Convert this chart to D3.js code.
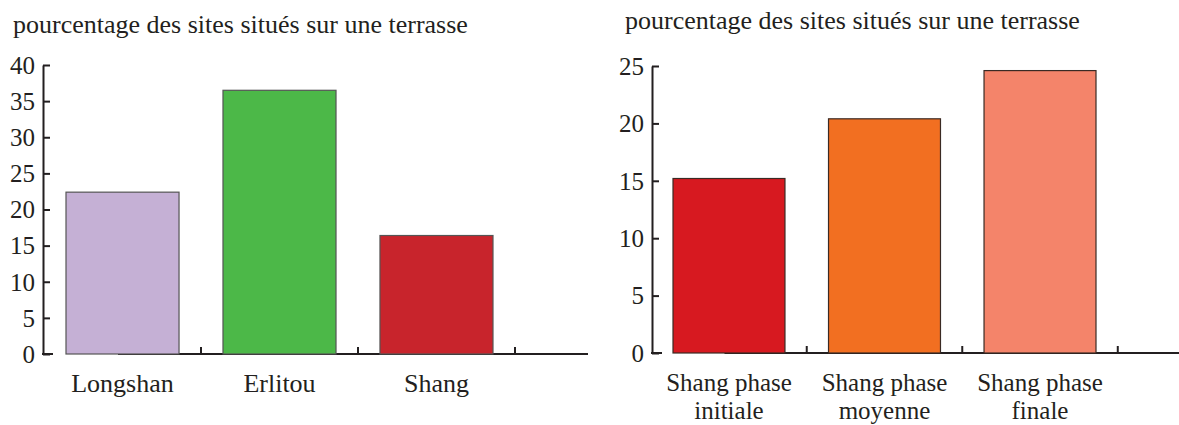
<!DOCTYPE html>
<html>
<head>
<meta charset="utf-8">
<script src="https://cdn.jsdelivr.net/npm/d3@7"></script>
<style>
  html, body { margin: 0; padding: 0; background: #fff; }
  svg { display: block; }
  text { font-family: "Liberation Serif", "Times New Roman", serif; fill: #231f20; }
</style>
</head>
<body>
<svg id="chart" width="1179" height="425"></svg>
<script>
// ---- data ----
const titleText = "pourcentage des sites situés sur une terrasse";

const leftCategories = ["Longshan", "Erlitou", "Shang"];
const leftValues = [22.4, 36.5, 16.4];
const leftColors = ["#c5b0d5", "#4cb848", "#c8242c"];
const leftTicks = [0, 5, 10, 15, 20, 25, 30, 35, 40];

const rightCategories = ["Shang phase initiale", "Shang phase moyenne", "Shang phase finale"];
const rightLabelLines = [["Shang phase", "initiale"], ["Shang phase", "moyenne"], ["Shang phase", "finale"]];
const rightValues = [15.2, 20.4, 24.6];
const rightColors = ["#d71920", "#f26f21", "#f4846a"];
const rightTicks = [0, 5, 10, 15, 20, 25];

// ---- drawing ----
const svg = d3.select("#chart");
const ink = "#231f20";
const titleSize = 26;
const tickSize = 25;

function panel(cfg) {
  const g = svg.append("g");
  const y = d3.scaleLinear().domain([0, cfg.max]).range([cfg.y0, cfg.y1]);
  const x = d3.scaleBand().domain(cfg.cats).range(cfg.xr).paddingInner(0.28).paddingOuter(0);
  const gap = x.step() - x.bandwidth();

  // title
  g.append("text")
    .attr("x", cfg.titleX).attr("y", cfg.titleY)
    .attr("font-size", titleSize)
    .text(titleText);

  // y axis (ticks pointing inward)
  const yAxis = d3.axisRight(y).tickValues(cfg.ticks).tickSize(7).tickSizeOuter(0).tickFormat("");
  const ya = g.append("g").attr("transform", `translate(${cfg.ax},0)`).call(yAxis);
  ya.select(".domain").attr("stroke", ink).attr("stroke-width", 2);
  ya.selectAll(".tick line").attr("stroke", ink).attr("stroke-width", 2);

  // y tick labels
  g.selectAll(".ylab").data(cfg.ticks).join("text")
    .attr("class", "ylab")
    .attr("x", cfg.ax - 8)
    .attr("y", d => y(d))
    .attr("dy", "0.35em")
    .attr("text-anchor", "end")
    .attr("font-size", tickSize)
    .text(d => d);

  // foot of y axis
  g.append("line")
    .attr("x1", cfg.ax - 1).attr("x2", cfg.ax + 10)
    .attr("y1", y(0)).attr("y2", y(0))
    .attr("stroke", ink).attr("stroke-width", 2);

  // x baseline
  g.append("line")
    .attr("x1", x(cfg.cats[0]) + x.bandwidth() * 0.46).attr("x2", cfg.xEnd)
    .attr("y1", y(0)).attr("y2", y(0))
    .attr("stroke", ink).attr("stroke-width", 2);

  // x ticks (upwards) at gap centres to right of each bar
  g.selectAll(".xt").data(cfg.cats).join("line")
    .attr("class", "xt")
    .attr("x1", d => x(d) + x.bandwidth() + gap / 2)
    .attr("x2", d => x(d) + x.bandwidth() + gap / 2)
    .attr("y1", y(0)).attr("y2", y(0) - 7)
    .attr("stroke", ink).attr("stroke-width", 2);

  // bars
  g.selectAll(".bar").data(cfg.vals).join("rect")
    .attr("class", "bar")
    .attr("x", (d, i) => x(cfg.cats[i]))
    .attr("y", d => y(d))
    .attr("width", x.bandwidth())
    .attr("height", d => y(0) - y(d))
    .attr("fill", (d, i) => cfg.colors[i])
    .attr("stroke", cfg.barStroke)
    .attr("stroke-width", 1.2);

  // category labels
  g.selectAll(".xlab").data(cfg.cats).join("text")
    .attr("class", "xlab")
    .attr("x", d => x(d) + x.bandwidth() / 2)
    .attr("y", cfg.labelY)
    .attr("text-anchor", "middle")
    .attr("font-size", cfg.labelSize)
    .each(function(d, i) {
      const lines = cfg.lines ? cfg.lines[i] : [d];
      d3.select(this).selectAll("tspan").data(lines).join("tspan")
        .attr("x", x(d) + x.bandwidth() / 2)
        .attr("dy", (l, j) => j === 0 ? 0 : 28)
        .text(l => l);
    });
}

panel({
  cats: leftCategories, vals: leftValues, colors: leftColors, ticks: leftTicks,
  max: 40, y0: 354, y1: 65, xr: [66, 493], ax: 43, xEnd: 588,
  titleX: 13, titleY: 33, labelY: 392, labelSize: 26, barStroke: "#555555"
});

panel({
  cats: rightCategories, vals: rightValues, colors: rightColors, ticks: rightTicks,
  lines: rightLabelLines,
  max: 25, y0: 353, y1: 66, xr: [673, 1096], ax: 652, xEnd: 1179,
  titleX: 625, titleY: 29, labelY: 391, labelSize: 25, barStroke: "#3a2a24"
});
</script>
</body>
</html>
